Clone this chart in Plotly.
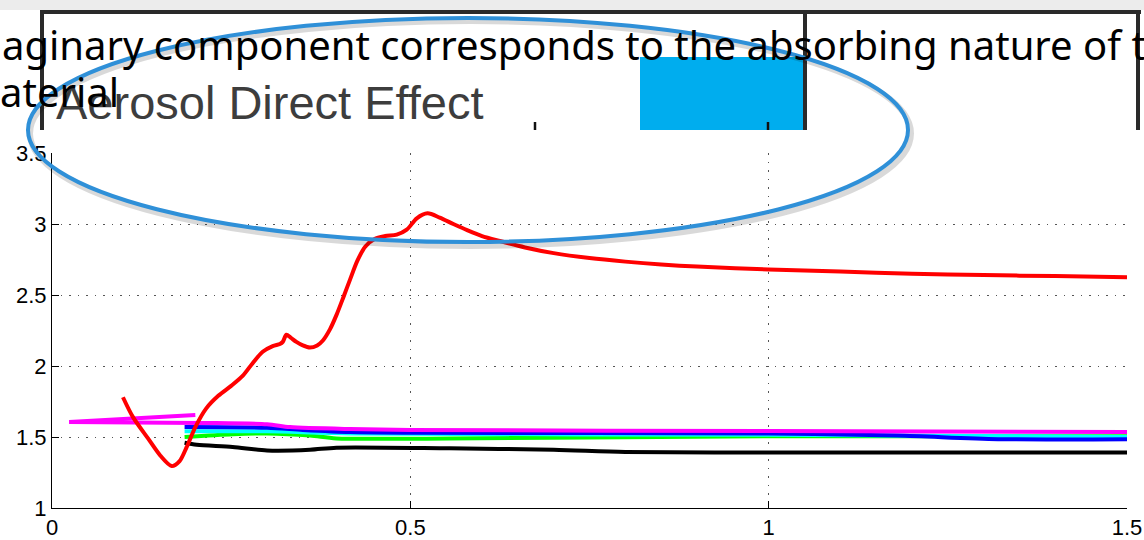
import plotly.graph_objects as go

# ---------------- data ----------------
red_x = [0.099, 0.113, 0.134, 0.151, 0.167, 0.178, 0.188, 0.200, 0.215, 0.232, 0.250, 0.266,
         0.280, 0.294, 0.308, 0.318, 0.322, 0.327, 0.333, 0.341, 0.350, 0.360, 0.370, 0.378,
         0.388, 0.397, 0.407, 0.416, 0.426, 0.437, 0.450, 0.465, 0.481, 0.495, 0.509, 0.524,
         0.541, 0.560, 0.580, 0.600, 0.625, 0.660, 0.700, 0.750, 0.800, 0.850, 0.900, 1.000,
         1.100, 1.200, 1.300, 1.400, 1.500]
red_y = [1.78, 1.64, 1.49, 1.37, 1.295, 1.33, 1.43, 1.57, 1.70, 1.79, 1.86, 1.93,
         2.02, 2.10, 2.14, 2.155, 2.17, 2.22, 2.20, 2.17, 2.145, 2.13, 2.145, 2.18,
         2.26, 2.36, 2.49, 2.61, 2.74, 2.84, 2.895, 2.915, 2.925, 2.96, 3.04, 3.075,
         3.045, 3.00, 2.955, 2.915, 2.88, 2.835, 2.795, 2.76, 2.735, 2.715, 2.70, 2.68,
         2.665, 2.65, 2.64, 2.633, 2.625]

black_x = [0.185, 0.202, 0.252, 0.300, 0.360, 0.397, 0.555, 0.700, 0.800, 1.000, 1.500]
black_y = [1.46, 1.445, 1.43, 1.405, 1.41, 1.425, 1.42, 1.41, 1.395, 1.39, 1.39]

green_x = [0.185, 0.252, 0.300, 0.360, 0.397, 0.555, 1.000, 1.500]
green_y = [1.50, 1.52, 1.525, 1.51, 1.49, 1.49, 1.505, 1.505]

cyan_x = [0.185, 0.300, 0.416, 1.000, 1.500]
cyan_y = [1.54, 1.54, 1.525, 1.515, 1.50]

blue_x = [0.185, 0.300, 0.350, 0.416, 0.500, 1.000, 1.180, 1.320, 1.500]
blue_y = [1.57, 1.565, 1.55, 1.535, 1.53, 1.525, 1.51, 1.485, 1.485]

magenta_short_x = [0.024, 0.200]
magenta_short_y = [1.606, 1.655]

magenta_x = [0.024, 0.206, 0.300, 0.332, 0.416, 0.500, 1.000, 1.500]
magenta_y = [1.606, 1.599, 1.59, 1.57, 1.556, 1.55, 1.542, 1.535]

x_ticks = [0, 0.5, 1, 1.5]
x_tick_text = ["0", "0.5", "1", "1.5"]
y_ticks = [1, 1.5, 2, 2.5, 3, 3.5]
y_tick_text = ["1", "1.5", "2", "2.5", "3", "3.5"]

slide_line1 = "aginary component corresponds to the absorbing nature of th"
slide_line2 = "aterial"
image_title = "Aerosol Direct Effect"

# ---------------- figure ----------------
L, R, T, B = 52, 17, 153, 32
W, H = 1144, 540
PW, PH = W - L - R, H - T - B


def PX(px):
    return (px - L) / PW


def PY(py):
    return (H - B - py) / PH


fig = go.Figure()

series = [
    (black_x, black_y, "black"),
    (green_x, green_y, "#00ff00"),
    (cyan_x, cyan_y, "#00ffff"),
    (blue_x, blue_y, "#0000ff"),
    (magenta_short_x, magenta_short_y, "#ff00ff"),
    (magenta_x, magenta_y, "#ff00ff"),
    (red_x, red_y, "#ff0000"),
]
for xs, ys, c in series:
    fig.add_trace(go.Scatter(x=xs, y=ys, mode="lines",
                             line=dict(color=c, width=4, shape="spline", smoothing=0.8),
                             showlegend=False, hoverinfo="skip"))

grid_dash = "1.5px,7px"
tick_font = dict(family="Liberation Sans, Arial", size=22, color="black")
fig.update_xaxes(range=[0, 1.5], tickvals=x_ticks, ticktext=x_tick_text, automargin=False,
                 showgrid=True, gridcolor="#555555", gridwidth=1, griddash=grid_dash,
                 showline=True, linecolor="black", linewidth=1,
                 ticks="inside", ticklen=7, tickcolor="black",
                 zeroline=False, tickfont=tick_font)
fig.update_yaxes(range=[1, 3.5], tickvals=y_ticks, ticktext=y_tick_text, automargin=False,
                 showgrid=True, gridcolor="#555555", gridwidth=1, griddash=grid_dash,
                 showline=True, linecolor="black", linewidth=1,
                 ticks="inside", ticklen=7, tickcolor="black",
                 zeroline=False, tickfont=tick_font)

shapes = []
# top shadow of the pasted slide image
shapes.append(dict(type="rect", xref="paper", yref="paper",
                   x0=PX(0), x1=PX(W), y0=PY(10), y1=PY(0),
                   fillcolor="rgba(200,200,200,0.35)", line=dict(width=0), layer="below"))
# frame lines of the pasted image
frame = "#2a2a2a"
for (x0, y0, x1, y1) in [(40, 12, 1141, 12), (42, 12, 42, 130), (805, 12, 805, 130), (1138, 12, 1138, 130)]:
    shapes.append(dict(type="line", xref="paper", yref="paper",
                       x0=PX(x0), y0=PY(y0), x1=PX(x1), y1=PY(y1),
                       line=dict(color=frame, width=4), layer="below"))
# cyan block
shapes.append(dict(type="rect", xref="paper", yref="paper",
                   x0=PX(640), x1=PX(803), y0=PY(130), y1=PY(57),
                   fillcolor="#00adee", line=dict(width=0), layer="below"))
# small tick marks of the pasted image
for tx in [535, 768]:
    shapes.append(dict(type="line", xref="paper", yref="paper",
                       x0=PX(tx), x1=PX(tx), y0=PY(130), y1=PY(122),
                       line=dict(color="#111111", width=2.5), layer="below"))
# ellipse shadow + ellipse
shapes.append(dict(type="circle", xref="paper", yref="paper",
                   x0=PX(30), x1=PX(911), y0=PY(246), y1=PY(21),
                   line=dict(color="rgba(0,0,0,0.15)", width=6), layer="above"))
shapes.append(dict(type="circle", xref="paper", yref="paper",
                   x0=PX(28), x1=PX(908), y0=PY(242), y1=PY(18),
                   line=dict(color="#2f90d8", width=4), layer="above"))

annotations = [
    dict(text=image_title, xref="paper", yref="paper", x=PX(54), y=PY(103),
         xanchor="left", yanchor="middle", showarrow=False,
         font=dict(family="Liberation Sans, Arial", size=47, color="#3d3d3d")),
    dict(text=slide_line1, xref="paper", yref="paper", x=PX(0), y=PY(45),
         xanchor="left", yanchor="middle", showarrow=False,
         font=dict(family="Noto Sans", size=40, color="black")),
    dict(text=slide_line2, xref="paper", yref="paper", x=PX(-2), y=PY(91),
         xanchor="left", yanchor="middle", showarrow=False,
         font=dict(family="Noto Sans", size=40, color="black")),
]

fig.update_layout(width=W, height=H, margin=dict(l=L, r=R, t=T, b=B),
                  paper_bgcolor="white", plot_bgcolor="white",
                  shapes=shapes, annotations=annotations)

fig.write_html("out.html")
